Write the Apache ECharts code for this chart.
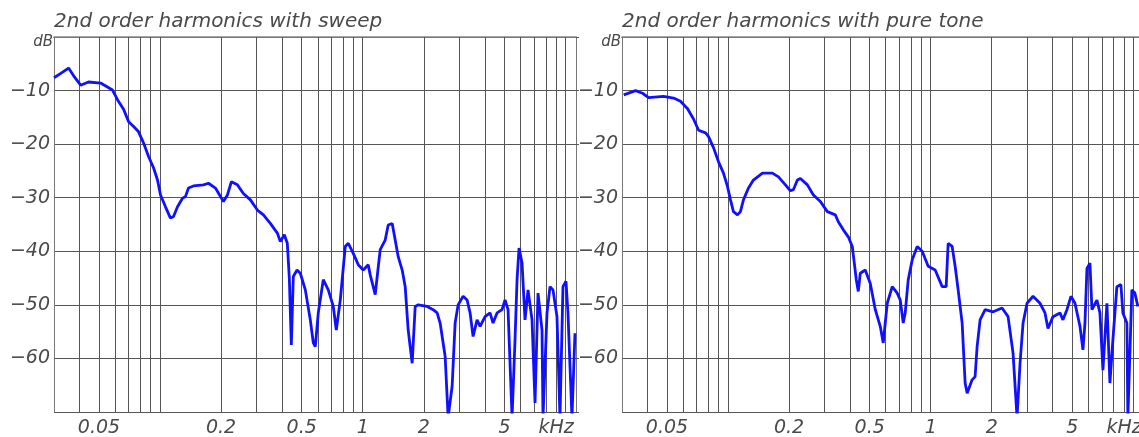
<!DOCTYPE html>
<html><head><meta charset="utf-8">
<script src="https://cdn.jsdelivr.net/npm/echarts@6/dist/echarts.min.js"></script>
<style>html,body{margin:0;padding:0;background:#fff}#c{width:1139px;height:437px}</style>
</head><body><div id="c"></div>
<script>
// ---- data (frequency in kHz, level in dB) ----
const sweepFreq = [0.030,0.0324,0.0354,0.0379,0.0406,0.0444,0.0509,0.0583,0.0617,0.0661,0.0700,0.0741,0.0784,0.0830,0.0878,0.0929,0.0972,0.1006,0.1064,0.1126,0.1166,0.1220,0.1291,0.1335,0.1382,0.1462,0.1638,0.1734,0.1877,0.2055,0.2150,0.2250,0.2409,0.2578,0.2792,0.3022,0.3236,0.3502,0.3791,0.3922,0.4104,0.4246,0.4344,0.4444,0.4546,0.4742,0.4922,0.5209,0.5513,0.5704,0.5834,0.6036,0.6389,0.6761,0.7157,0.7405,0.7749,0.8200,0.8485,0.8979,0.9502,1.0057,1.0644,1.0888,1.1523,1.1787,1.2197,1.2906,1.3355,1.3975,1.4459,1.4960,1.5654,1.6197,1.6757,1.7533,1.8144,1.8772,2.0784,2.2251,2.3281,2.4087,2.5493,2.6376,2.7600,2.8557,2.9540,3.1267,3.2717,3.3851,3.5018,3.6644,3.7914,4.0125,4.2466,4.3937,4.5973,4.8660,5.0350,5.2088,5.4514,5.6393,5.7694,5.9014,6.1060,6.3174,6.5364,6.8391,7.0762,7.3204,7.6604,7.7482,8.1083,8.3879,8.6780,9.0807,9.3950,9.7206,10.058,10.287,10.765,11.139];
const sweepDb = [-7.6,-6.8,-5.8,-7.5,-9.0,-8.4,-8.6,-9.9,-11.7,-13.5,-15.8,-16.7,-17.7,-19.8,-22.3,-24.4,-26.7,-29.5,-31.7,-33.8,-33.5,-31.7,-30.1,-29.8,-28.2,-27.8,-27.6,-27.3,-28.2,-30.7,-29.5,-27.0,-27.6,-29.2,-30.4,-32.3,-33.2,-34.8,-36.6,-38.2,-36.9,-38.5,-45.0,-57.5,-44.7,-43.5,-44.1,-47.2,-52.8,-57.1,-57.8,-51.5,-45.3,-47.2,-50.3,-54.7,-49.1,-39.1,-38.5,-40.4,-42.5,-43.5,-42.5,-44.4,-48.1,-44.7,-39.7,-37.9,-35.1,-34.8,-37.9,-41.0,-43.5,-46.6,-54.7,-60.9,-50.3,-50.0,-50.3,-50.9,-51.5,-53.4,-59.6,-71,-65.2,-53.4,-50.0,-48.4,-49.1,-51.5,-55.9,-52.8,-54.0,-52.2,-51.5,-53.4,-51.5,-50.9,-49.1,-50.9,-71,-56.5,-45.3,-39.4,-42.2,-52.8,-47.2,-52.8,-68.3,-47.8,-54.7,-71,-51.5,-46.6,-47.2,-52.2,-71,-46.6,-45.6,-51.5,-71,-55.3];

const toneFreq = [0.0306,0.0350,0.0379,0.0406,0.0481,0.0539,0.0583,0.0632,0.0676,0.0716,0.0775,0.0802,0.0849,0.0898,0.0950,0.0994,0.1029,0.1064,0.1114,0.1152,0.1192,0.1262,0.1335,0.1479,0.1656,0.1774,0.1920,0.2032,0.2102,0.2200,0.2276,0.2464,0.2638,0.2856,0.3091,0.3385,0.3502,0.3707,0.3922,0.4104,0.4200,0.4295,0.4394,0.4495,0.4756,0.5035,0.5331,0.5639,0.5834,0.6106,0.6462,0.6839,0.7076,0.7320,0.7489,0.7749,0.8108,0.8580,0.9081,0.9721,1.0524,1.1396,1.1924,1.2197,1.2762,1.3204,1.3663,1.4298,1.4791,1.5131,1.6011,1.6566,1.6947,1.7533,1.8559,2.0318,2.2501,2.4087,2.5493,2.6676,2.7600,2.8557,2.9882,3.1983,3.4624,3.6644,3.7914,4.0125,4.3448,4.4947,4.7024,4.9204,5.1504,5.4514,5.6393,5.7694,5.9014,6.1060,6.2468,6.6106,6.8391,7.0762,7.4060,7.6604,7.9250,8.2930,8.6780,8.8780,9.2897,9.3950,9.8310,10.172,10.524];
const toneDb = [-10.8,-10.0,-10.5,-11.3,-11.1,-11.4,-12.0,-13.4,-15.3,-17.4,-17.9,-18.6,-20.7,-23.3,-25.4,-27.9,-30.4,-32.6,-33.2,-32.6,-30.4,-28.2,-26.7,-25.4,-25.4,-26.1,-27.6,-28.7,-28.5,-26.7,-26.4,-27.6,-29.5,-30.7,-32.6,-33.2,-34.5,-36.0,-37.3,-39.1,-42.2,-45.3,-47.5,-44.1,-43.5,-46.0,-50.9,-54.0,-57.1,-49.7,-46.6,-47.8,-49.1,-53.4,-51.5,-45.3,-41.6,-39.1,-40.0,-42.8,-43.5,-46.6,-46.6,-38.5,-39.1,-42.8,-47.2,-53.4,-64.6,-66.5,-64.0,-63.4,-57.8,-52.8,-50.9,-51.3,-50.6,-52.2,-59.0,-71,-60.9,-53.4,-49.7,-48.4,-49.7,-51.5,-54.4,-52.2,-51.5,-52.8,-50.9,-48.4,-49.7,-54.0,-58.4,-53.4,-43.2,-42.2,-50.9,-49.1,-51.5,-62.2,-49.7,-64.6,-56.5,-46.6,-46.2,-51.5,-53.4,-71,-47.2,-47.8,-50.3];

const gridFreqs = [0.04,0.05,0.06,0.07,0.08,0.09,0.1,0.2,0.3,0.4,0.5,0.6,0.7,0.8,0.9,1,2,3,4,5,6,7,8,9,10];
const labelFreqs = [0.05,0.2,0.5,1,2,5,9];
const labelTexts = ['0.05','0.2','0.5','1','2','5','kHz'];
const titles = ['2nd order harmonics with sweep','2nd order harmonics with pure tone'];
const xMin = 0.03;
const xMaxes = [11.27, 10.66];   // right panel is cut off by the picture edge
const yMin = -70, yMax = 0, yStep = 10;

// ---- chart ----
const FONT = '"DejaVu Sans", sans-serif';
const TXT = '#4a4a4a';
const GRIDC = '#555';
const BORDER = '#777';
const chart = echarts.init(document.getElementById('c'), null, {renderer:'canvas'});

function gridMarks() {
  return gridFreqs.map(f => {
    const i = labelFreqs.indexOf(f);
    return {
      xAxis: f,
      label: i >= 0 ? {show:true, position:'start', distance:7, formatter: labelTexts[i],
        fontFamily: FONT, fontStyle:'italic', fontSize:19, color:TXT} : {show:false}
    };
  });
}

const grids = [{left:54, width:522}, {left:622, right:0}];
const option = {
  animation: false,
  backgroundColor: '#fff',
  title: titles.map((t,i) => ({text:t, left: grids[i].left-5, top: 7,
    textStyle:{fontFamily:FONT, fontStyle:'italic', fontWeight:'normal', fontSize:20, color:TXT}})),
  grid: grids.map(g => Object.assign({top:37, height:375, show:false}, g)),
  xAxis: [0,1].map(i => ({type:'log', logBase:10, gridIndex:i, min:xMin, max:xMaxes[i],
    axisLine:{show:true, lineStyle:{color:'#888', width:1.5}}, axisTick:{show:false},
    axisLabel:{show:false}, splitLine:{show:false}, minorSplitLine:{show:false}}))
   .concat([0,1].map(i => ({type:'log', logBase:10, gridIndex:i, position:'top', min:xMin, max:xMaxes[i],
    axisLine:{show:true, lineStyle:{color:BORDER, width:1}}, axisTick:{show:false},
    axisLabel:{show:false}, splitLine:{show:false}}))),
  yAxis: [0,1].flatMap(i => [
    {type:'value', gridIndex:i, min:yMin, max:yMax, interval:yStep,
     name:'dB', nameLocation:'end', nameGap:-13,
     nameTextStyle:{fontFamily:FONT, fontStyle:'italic', fontSize:15, color:TXT, align:'right', padding:[0,1,0,0]},
     axisLine:{show:true, lineStyle:{color:BORDER}}, axisTick:{show:false},
     axisLabel:{margin:4, fontFamily:FONT, fontStyle:'italic', fontSize:19, color:TXT,
       formatter: v => (v === yMin || v === yMax) ? '' : String(v).replace('-', '\u2212')},
     splitLine:{show:true, lineStyle:{color:GRIDC, width:1}}},
    {type:'value', gridIndex:i, position:'right', min:yMin, max:yMax, interval:yStep,
     axisLine:{show: i === 0, lineStyle:{color:BORDER}}, axisTick:{show: i === 0, length:3, lineStyle:{color:GRIDC}},
     axisLabel:{show:false}, splitLine:{show:false}}
  ]),
  series: [
    {name:'sweep', type:'line', xAxisIndex:0, yAxisIndex:0, z:3,
     data: sweepFreq.map((f,k)=>[f, sweepDb[k]])},
    {name:'pure tone', type:'line', xAxisIndex:1, yAxisIndex:2, z:3,
     data: toneFreq.map((f,k)=>[f, toneDb[k]])}
  ].map(s => Object.assign(s, {
    showSymbol:false, symbol:'none', clip:true,
    lineStyle:{color:'#1010ff', width:2.8}, silent:true,
    markLine:{z:1, silent:true, symbol:['none','none'], animation:false,
      lineStyle:{type:'solid', color:GRIDC, width:1}, emphasis:{disabled:true},
      data: gridMarks()}
  }))
};
chart.setOption(option);
</script></body></html>
